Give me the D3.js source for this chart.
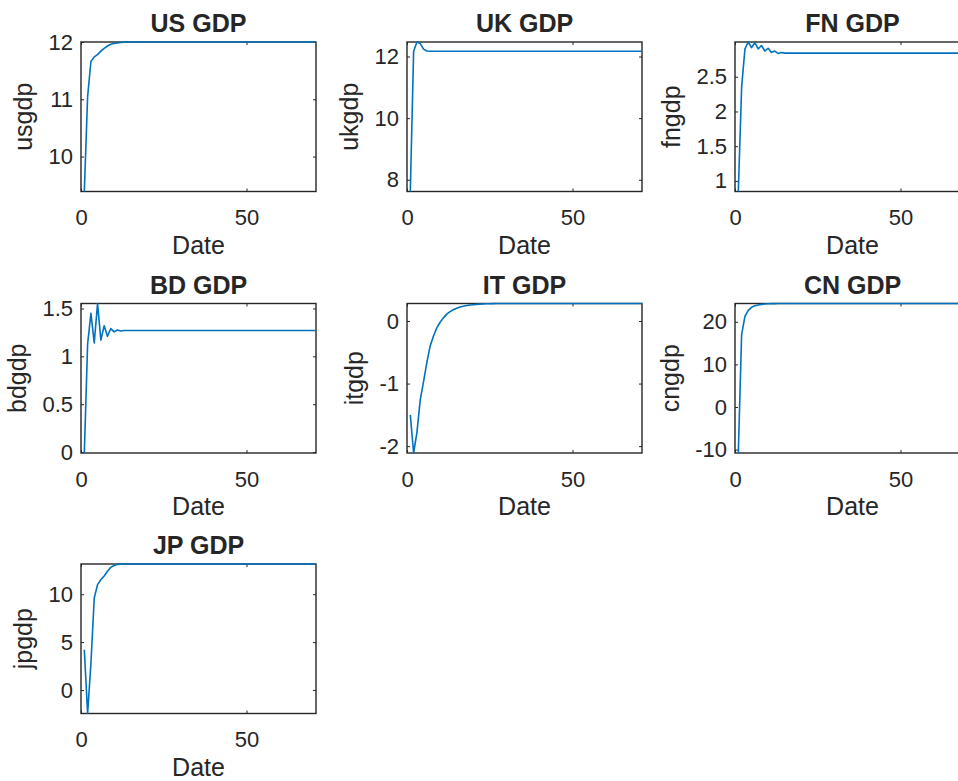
<!DOCTYPE html>
<html>
<head>
<meta charset="utf-8">
<script src="https://cdn.jsdelivr.net/npm/d3@7"></script>
<style>
  html, body { margin: 0; padding: 0; background: #ffffff; overflow: hidden; }
  svg { display: block; }
  text { font-family: "Liberation Sans", Arial, Helvetica, sans-serif; fill: #262626; }
</style>
</head>
<body>
<svg id="fig" width="958" height="781"></svg>
<script>
// Period index shared by every series
const periods = d3.range(1, 72);
const xTicks = [0, 50];
const xDomain = [0, 71];

// GDP response series, one value per period
const usgdp = [
  9.39, 11.05, 11.66, 11.74, 11.78, 11.84, 11.89, 11.93, 11.96, 11.975,
  11.985, 11.99, 11.995, 11.998, 12.0, 12.0, 12.0, 12.0, 12.0, 12.0,
  12.0, 12.0, 12.0, 12.0, 12.0, 12.0, 12.0, 12.0, 12.0, 12.0,
  12.0, 12.0, 12.0, 12.0, 12.0, 12.0, 12.0, 12.0, 12.0, 12.0,
  12.0, 12.0, 12.0, 12.0, 12.0, 12.0, 12.0, 12.0, 12.0, 12.0,
  12.0, 12.0, 12.0, 12.0, 12.0, 12.0, 12.0, 12.0, 12.0, 12.0,
  12.0, 12.0, 12.0, 12.0, 12.0, 12.0, 12.0, 12.0, 12.0, 12.0,
  12.0
];
const ukgdp = [
  7.62, 12.17, 12.47, 12.42, 12.24, 12.18, 12.17, 12.17, 12.17, 12.17,
  12.17, 12.17, 12.17, 12.17, 12.17, 12.17, 12.17, 12.17, 12.17, 12.17,
  12.17, 12.17, 12.17, 12.17, 12.17, 12.17, 12.17, 12.17, 12.17, 12.17,
  12.17, 12.17, 12.17, 12.17, 12.17, 12.17, 12.17, 12.17, 12.17, 12.17,
  12.17, 12.17, 12.17, 12.17, 12.17, 12.17, 12.17, 12.17, 12.17, 12.17,
  12.17, 12.17, 12.17, 12.17, 12.17, 12.17, 12.17, 12.17, 12.17, 12.17,
  12.17, 12.17, 12.17, 12.17, 12.17, 12.17, 12.17, 12.17, 12.17, 12.17,
  12.17
];
const fngdp = [
  0.848, 2.35, 2.90, 3.00, 2.92, 2.99, 2.90, 2.95, 2.87, 2.91,
  2.85, 2.87, 2.835, 2.85, 2.84, 2.84, 2.84, 2.84, 2.84, 2.84,
  2.84, 2.84, 2.84, 2.84, 2.84, 2.84, 2.84, 2.84, 2.84, 2.84,
  2.84, 2.84, 2.84, 2.84, 2.84, 2.84, 2.84, 2.84, 2.84, 2.84,
  2.84, 2.84, 2.84, 2.84, 2.84, 2.84, 2.84, 2.84, 2.84, 2.84,
  2.84, 2.84, 2.84, 2.84, 2.84, 2.84, 2.84, 2.84, 2.84, 2.84,
  2.84, 2.84, 2.84, 2.84, 2.84, 2.84, 2.84, 2.84, 2.84, 2.84,
  2.84
];
const bdgdp = [
  -0.01, 1.13, 1.45, 1.14, 1.552, 1.17, 1.32, 1.21, 1.29, 1.255,
  1.275, 1.265, 1.27, 1.27, 1.27, 1.27, 1.27, 1.27, 1.27, 1.27,
  1.27, 1.27, 1.27, 1.27, 1.27, 1.27, 1.27, 1.27, 1.27, 1.27,
  1.27, 1.27, 1.27, 1.27, 1.27, 1.27, 1.27, 1.27, 1.27, 1.27,
  1.27, 1.27, 1.27, 1.27, 1.27, 1.27, 1.27, 1.27, 1.27, 1.27,
  1.27, 1.27, 1.27, 1.27, 1.27, 1.27, 1.27, 1.27, 1.27, 1.27,
  1.27, 1.27, 1.27, 1.27, 1.27, 1.27, 1.27, 1.27, 1.27, 1.27,
  1.27
];
const itgdp = [
  -1.50, -2.11, -1.78, -1.26, -0.97, -0.66, -0.40, -0.24, -0.11, -0.02,
  0.05, 0.11, 0.15, 0.18, 0.205, 0.223, 0.237, 0.247, 0.255, 0.261,
  0.266, 0.270, 0.273, 0.275, 0.277, 0.278, 0.279, 0.28, 0.28, 0.28,
  0.28, 0.28, 0.28, 0.28, 0.28, 0.28, 0.28, 0.28, 0.28, 0.28,
  0.28, 0.28, 0.28, 0.28, 0.28, 0.28, 0.28, 0.28, 0.28, 0.28,
  0.28, 0.28, 0.28, 0.28, 0.28, 0.28, 0.28, 0.28, 0.28, 0.28,
  0.28, 0.28, 0.28, 0.28, 0.28, 0.28, 0.28, 0.28, 0.28, 0.28,
  0.28
];
const cngdp = [
  -10.8, 17.0, 21.3, 22.7, 23.4, 23.75, 23.95, 24.1, 24.18, 24.23,
  24.26, 24.28, 24.29, 24.3, 24.3, 24.3, 24.3, 24.3, 24.3, 24.3,
  24.3, 24.3, 24.3, 24.3, 24.3, 24.3, 24.3, 24.3, 24.3, 24.3,
  24.3, 24.3, 24.3, 24.3, 24.3, 24.3, 24.3, 24.3, 24.3, 24.3,
  24.3, 24.3, 24.3, 24.3, 24.3, 24.3, 24.3, 24.3, 24.3, 24.3,
  24.3, 24.3, 24.3, 24.3, 24.3, 24.3, 24.3, 24.3, 24.3, 24.3,
  24.3, 24.3, 24.3, 24.3, 24.3, 24.3, 24.3, 24.3, 24.3, 24.3,
  24.3
];
const jpgdp = [
  4.2, -2.45, 2.8, 9.6, 11.0, 11.5, 11.9, 12.4, 12.8, 13.0,
  13.1, 13.14, 13.15, 13.15, 13.15, 13.15, 13.15, 13.15, 13.15, 13.15,
  13.15, 13.15, 13.15, 13.15, 13.15, 13.15, 13.15, 13.15, 13.15, 13.15,
  13.15, 13.15, 13.15, 13.15, 13.15, 13.15, 13.15, 13.15, 13.15, 13.15,
  13.15, 13.15, 13.15, 13.15, 13.15, 13.15, 13.15, 13.15, 13.15, 13.15,
  13.15, 13.15, 13.15, 13.15, 13.15, 13.15, 13.15, 13.15, 13.15, 13.15,
  13.15, 13.15, 13.15, 13.15, 13.15, 13.15, 13.15, 13.15, 13.15, 13.15,
  13.15
];

// Panel titles, axis names and y tick values
const titles = ["US GDP", "UK GDP", "FN GDP", "BD GDP", "IT GDP", "CN GDP", "JP GDP"];
const yLabels = ["usgdp", "ukgdp", "fngdp", "bdgdp", "itgdp", "cngdp", "jpgdp"];
const seriesList = [usgdp, ukgdp, fngdp, bdgdp, itgdp, cngdp, jpgdp];
const yTickSets = [
  [10, 11, 12],
  [8, 10, 12],
  [1, 1.5, 2, 2.5],
  [0, 0.5, 1, 1.5],
  [-2, -1, 0],
  [-10, 0, 10, 20],
  [0, 5, 10]
];

// 3x3 subplot grid geometry
const colLeft = [81, 407, 735];
const rowTop = [42, 303.5, 564];
const axW = 235, axH = 149.5;

const svg = d3.select("#fig");
const lineColor = "#0072BD";
const axisColor = "#262626";
const tickLen = 3;

seriesList.forEach((values, i) => {
  const left = colLeft[i % 3];
  const top = rowTop[Math.floor(i / 3)];
  const x = d3.scaleLinear().domain(xDomain).range([left, left + axW]);
  const y = d3.scaleLinear().domain(d3.extent(values)).range([top + axH, top]);

  const g = svg.append("g").attr("class", "panel");

  // axes box
  g.append("rect")
    .attr("x", left).attr("y", top)
    .attr("width", axW).attr("height", axH)
    .attr("fill", "#ffffff")
    .attr("stroke", axisColor)
    .attr("stroke-width", 1.4);

  // bottom axis with inward ticks
  const gx = g.append("g")
    .attr("transform", `translate(0,${top + axH})`)
    .call(d3.axisBottom(x).tickValues(xTicks).tickSizeInner(-tickLen).tickSizeOuter(0).tickPadding(18));
  // top axis ticks
  const gxt = g.append("g")
    .attr("transform", `translate(0,${top})`)
    .call(d3.axisTop(x).tickValues(xTicks).tickSizeInner(-tickLen).tickSizeOuter(0).tickFormat(""));
  // left axis with inward ticks
  const gy = g.append("g")
    .attr("transform", `translate(${left},0)`)
    .call(d3.axisLeft(y).tickValues(yTickSets[i]).tickSizeInner(-tickLen).tickSizeOuter(0).tickPadding(8)
      .tickFormat(d3.format("")));
  // right axis ticks
  const gyr = g.append("g")
    .attr("transform", `translate(${left + axW},0)`)
    .call(d3.axisRight(y).tickValues(yTickSets[i]).tickSizeInner(-tickLen).tickSizeOuter(0).tickFormat(""));

  [gx, gxt, gy, gyr].forEach(a => {
    a.select(".domain").remove();
    a.selectAll(".tick line").attr("stroke", axisColor).attr("stroke-width", 1);
    a.selectAll(".tick text")
      .attr("fill", axisColor)
      .style("font-size", "22px")
      .style("font-family", '"Liberation Sans", Arial, Helvetica, sans-serif');
  });
  gy.selectAll(".tick text").text(d => d3.format("")(d).replace("−", "-"));

  // series line
  g.append("path")
    .datum(values)
    .attr("fill", "none")
    .attr("stroke", lineColor)
    .attr("stroke-width", 1.6)
    .attr("stroke-linejoin", "round")
    .attr("d", d3.line().x((d, k) => x(periods[k])).y(d => y(d)));

  // title
  g.append("text")
    .attr("x", left + axW / 2)
    .attr("y", top - 10)
    .attr("text-anchor", "middle")
    .style("font-size", "25px")
    .style("font-weight", "bold")
    .attr("fill", "#111111")
    .text(titles[i]);

  // x label
  g.append("text")
    .attr("x", left + axW / 2)
    .attr("y", top + axH + 62)
    .attr("text-anchor", "middle")
    .style("font-size", "25px")
    .text("Date");

  // y label, placed clear of the widest tick label
  const bb = gy.node().getBBox();
  const labelX = left + bb.x - 16.5;
  g.append("text")
    .attr("transform", `translate(${labelX},${top + axH / 2}) rotate(-90)`)
    .attr("text-anchor", "middle")
    .style("font-size", "25px")
    .text(yLabels[i]);
});
</script>
</body>
</html>
